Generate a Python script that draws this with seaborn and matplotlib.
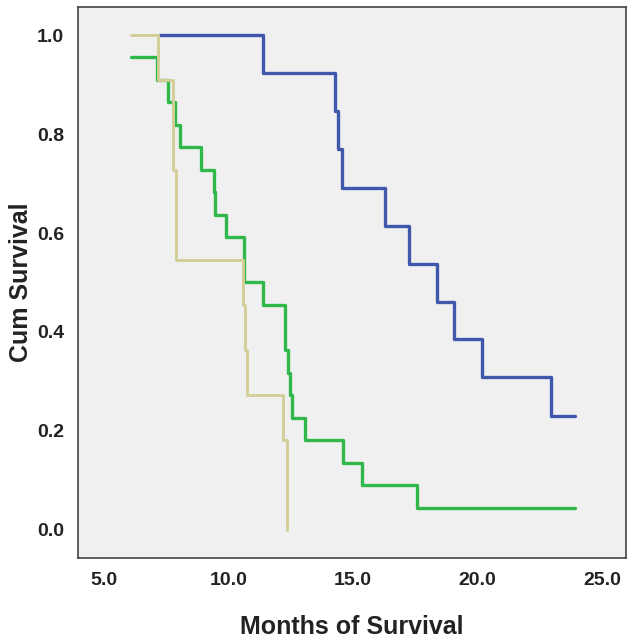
import matplotlib
matplotlib.use("Agg")
import matplotlib.pyplot as plt
import seaborn as sns
import pandas as pd

# Kaplan-Meier step data (time in months, cumulative survival after that time)
blue_time = [7.25, 11.37, 14.28, 14.41, 14.54, 16.28, 17.27, 18.36, 19.06, 20.17, 22.94, 23.92]
blue_surv = [1.0, 0.923, 0.846, 0.769, 0.692, 0.615, 0.538, 0.4615, 0.385, 0.308, 0.231, 0.231]

green_time = [6.07, 7.11, 7.58, 7.85, 8.05, 8.90, 9.40, 9.44, 9.90, 10.62, 11.40,
              12.27, 12.37, 12.47, 12.53, 13.07, 14.58, 15.35, 17.58, 23.92]
green_surv = [0.955, 0.909, 0.864, 0.818, 0.773, 0.727, 0.682, 0.636, 0.591, 0.5, 0.4545,
              0.364, 0.318, 0.273, 0.227, 0.182, 0.136, 0.091, 0.045, 0.045]

tan_time = [6.07, 7.18, 7.78, 7.89, 10.57, 10.67, 10.74, 12.17, 12.33]
tan_surv = [1.0, 0.909, 0.727, 0.545, 0.4545, 0.364, 0.273, 0.182, 0.0]

x_ticks = [5.0, 10.0, 15.0, 20.0, 25.0]
y_ticks = [0.0, 0.2, 0.4, 0.6, 0.8, 1.0]

series = [
    ("blue", blue_time, blue_surv, "#3f58ad", 2.4),
    ("green", green_time, green_surv, "#30b84a", 2.4),
    ("tan", tan_time, tan_surv, "#d3ce98", 2.1),
]

sns.set_style("white", {"axes.facecolor": "#f0f0f0"})
plt.rcParams["font.family"] = ["Liberation Sans", "DejaVu Sans"]

fig = plt.figure(figsize=(6.34, 6.42), dpi=100)
ax = fig.add_axes([78 / 634, 84 / 642, (626 - 78) / 634, (635 - 84) / 642])

for name, t, s, col, lw in series:
    df = pd.DataFrame({"t": t, "s": s})
    sns.lineplot(data=df, x="t", y="s", ax=ax, estimator=None, sort=False,
                 drawstyle="steps-post", color=col, linewidth=lw)

ax.set_xlim(3.95, 25.97)
ax.set_ylim(-0.057, 1.057)
ax.set_xticks(x_ticks)
ax.set_xticklabels([f"{v:.1f}" for v in x_ticks])
ax.set_yticks(y_ticks)
ax.set_yticklabels([f"{v:.1f}" for v in y_ticks])

for sp in ax.spines.values():
    sp.set_color("#444444")
    sp.set_linewidth(1.2)

ax.tick_params(axis="both", direction="out", length=6, width=1.2, color="#444444",
               labelsize=14, labelcolor="#222222", pad=4)
for lab in ax.get_xticklabels() + ax.get_yticklabels():
    lab.set_fontweight("bold")
ax.set_xlabel("Months of Survival", fontsize=18, fontweight="bold", color="#222222", labelpad=19)
ax.set_ylabel("Cum Survival", fontsize=18, fontweight="bold", color="#222222", labelpad=3)

fig.savefig("out.png", dpi=100)
